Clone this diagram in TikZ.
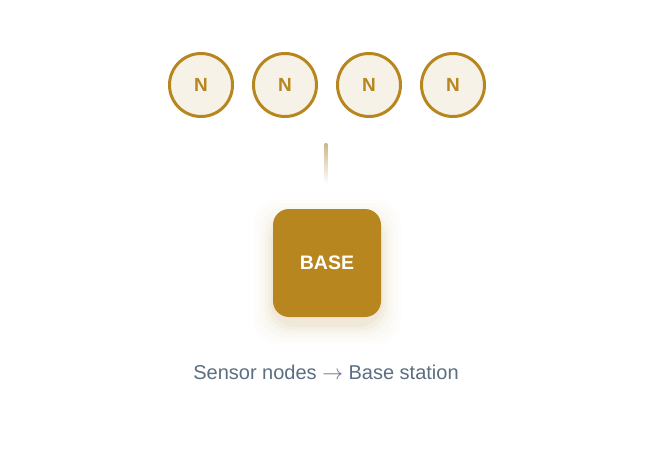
\documentclass[tikz,border=0pt]{standalone}
\usepackage{fontspec}
\setmainfont{Liberation Sans}
\definecolor{gold}{HTML}{B8861F}
\definecolor{cream}{HTML}{F7F2E7}
\definecolor{slate}{HTML}{5C6E82}
\definecolor{tan}{HTML}{CDB789}
\tikzset{
  sensor/.style={circle, draw=gold, line width=3pt, fill=cream, minimum size=63pt, inner sep=0pt,
    text=gold, font=\fontsize{19}{21}\selectfont\bfseries},
  basebox/.style={rounded corners=16pt, fill=gold, minimum width=108pt, minimum height=108pt, inner sep=0pt,
    text=white, font=\fontsize{19.5}{21}\selectfont\bfseries},
  caption/.style={text=slate, font=\fontsize{20}{24}\selectfont}
}
\begin{document}
\begin{tikzpicture}[x=1pt,y=-1pt]
\useasboundingbox[fill=white] (0,0) rectangle (655,458);
\node[sensor] (n1) at (201,85) {N};
\node[sensor] (n2) at (285,85) {N};
\node[sensor] (n3) at (369,85) {N};
\node[sensor] (n4) at (453,85) {N};
\coordinate (ltop) at (326,143);
\coordinate (lbot) at (326,184);
\shade[top color=tan, bottom color=white] ([xshift=-1.3pt]ltop) rectangle ([xshift=1.3pt]lbot);
% soft glow
\foreach \i/\o in {20/0.01,16/0.015,12/0.02,8/0.03,5/0.04,2/0.05}{
  \fill[gold, opacity=\o, rounded corners=24pt] (273-\i,219-\i) rectangle (381+\i,325+\i);
}
\node[basebox] (base) at (327,263) {BASE};
\node[caption] (cap) at (326,372) {Sensor nodes $\rightarrow$ Base station};
\end{tikzpicture}
\end{document}
